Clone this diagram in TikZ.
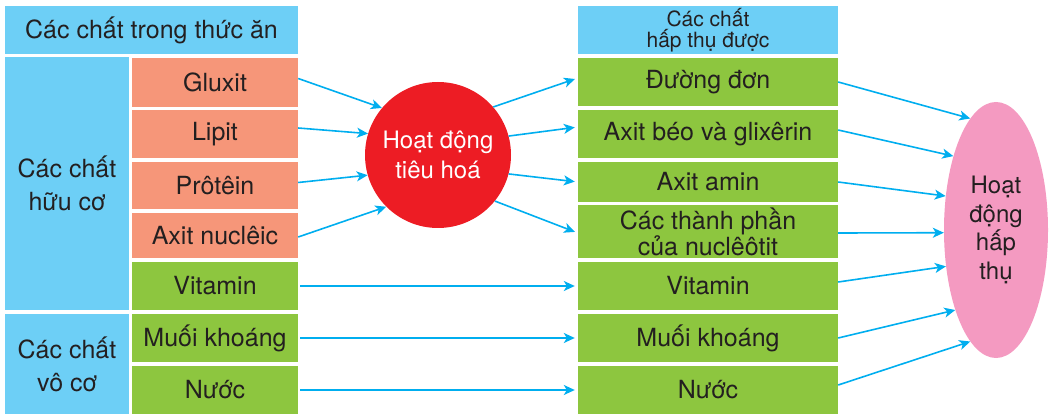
\documentclass[tikz,border=0pt]{standalone}
\usepackage{fontspec}
\setmainfont{TeX Gyre Heros}
\usepackage{xcolor}
\usetikzlibrary{arrows.meta}
\usetikzlibrary{shapes.geometric}
\definecolor{myblue}{RGB}{109,207,246}
\definecolor{mysalmon}{RGB}{246,150,121}
\definecolor{mygreen}{RGB}{141,198,63}
\definecolor{myred}{RGB}{237,28,36}
\definecolor{mypink}{RGB}{244,154,193}
\definecolor{myarrow}{RGB}{0,174,239}
\definecolor{mytext}{RGB}{35,31,32}

\tikzset{
  cell/.style={rectangle, inner sep=0pt, align=center, text=mytext,
    font=\fontsize{25}{33}\selectfont},
  arr/.style={draw=myarrow, line width=1.6pt,
    -{Stealth[length=11pt,width=10pt,inset=3pt]}},
}

\begin{document}
\begin{tikzpicture}[x=1pt,y=-1pt]
  \useasboundingbox (0,0) rectangle (1050,414);
  \def\wa{166}
  \def\wb{260}

%left table:
  \node[cell, fill=myblue, minimum width=293pt, minimum height=48pt] (thucan) at (151.5,30) {Các chất trong thức ăn};
  \node[cell, fill=myblue, minimum width=124pt, minimum height=253pt] (huuco) at (67,183.5) {Các chất\\hữu cơ};
  \node[cell, fill=myblue, minimum width=124pt, minimum height=100pt] (voco) at (67,364) {Các chất\\vô cơ};
  \node[cell, fill=mysalmon, minimum width=\wa pt, minimum height=49pt] (gluxit) at (215,82.5) {Gluxit};
  \node[cell, fill=mysalmon, minimum width=\wa pt, minimum height=48pt] (lipit) at (215,134) {Lipit};
  \node[cell, fill=mysalmon, minimum width=\wa pt, minimum height=47pt] (protein) at (215,185.5) {Prôtêin};
  \node[cell, fill=mysalmon, minimum width=\wa pt, minimum height=45pt] (nucleic) at (215,235.5) {Axit nuclêic};
  \node[cell, fill=mygreen, minimum width=\wa pt, minimum height=48pt] (vitamin) at (215,286) {Vitamin};
  \node[cell, fill=mygreen, minimum width=\wa pt, minimum height=48pt] (khoang) at (215,338) {Muối khoáng};
  \node[cell, fill=mygreen, minimum width=\wa pt, minimum height=48pt] (nuoc) at (215,390) {Nước};

%right table:
  \node[cell, fill=myblue, minimum width=\wb pt, minimum height=48pt, font=\fontsize{21}{20.5}\selectfont] (hapthuduoc) at (708,30) {Các chất\\hấp thụ được};
  \node[cell, fill=mygreen, minimum width=\wb pt, minimum height=48pt] (duongdon) at (708,82) {Đường đơn};
  \node[cell, fill=mygreen, minimum width=\wb pt, minimum height=48pt] (axitbeo) at (708,134) {Axit béo và glixêrin};
  \node[cell, fill=mygreen, minimum width=\wb pt, minimum height=40pt] (axitamin) at (708,182) {Axit amin};
  \node[cell, fill=mygreen, minimum width=\wb pt, minimum height=53pt, font=\fontsize{25}{23.5}\selectfont] (thanhphan) at (708,231.5) {Các thành phần\\của nuclêôtit};
  \node[cell, fill=mygreen, minimum width=\wb pt, minimum height=48pt] (vitaminb) at (708,286) {Vitamin};
  \node[cell, fill=mygreen, minimum width=\wb pt, minimum height=48pt] (khoangb) at (708,338) {Muối khoáng};
  \node[cell, fill=mygreen, minimum width=\wb pt, minimum height=48pt] (nuocb) at (708,390) {Nước};

%processes:
  \node[circle, fill=myred, minimum size=146pt, inner sep=0pt, align=center, text=white,
    font=\fontsize{24}{30}\selectfont] (tieuhoa) at (438,155) {Hoạt động\\tiêu hoá};
  \node[ellipse, fill=mypink, minimum width=104pt, minimum height=256pt, inner sep=0pt, align=center, text=mytext,
    font=\fontsize{24}{28.5}\selectfont] (hapthu) at (996,230) {Hoạt\\động\\hấp\\thụ};

%arrows:
  \draw[arr] ([yshift=4pt]gluxit.east) -- (tieuhoa.140);
  \draw[arr] ([yshift=6pt]lipit.east) -- (tieuhoa.163);
  \draw[arr] ([yshift=3pt]protein.east) -- (tieuhoa.196);
  \draw[arr] ([yshift=-1.5pt]nucleic.east) -- (tieuhoa.225);

  \draw[arr, shorten >=3pt] (tieuhoa.41) -- ([yshift=4pt]duongdon.west);
  \draw[arr, shorten >=3pt] (tieuhoa.15) -- ([yshift=7pt]axitbeo.west);
  \draw[arr, shorten >=3pt] (tieuhoa.-15) -- (axitamin.west);
  \draw[arr, shorten >=3pt] (tieuhoa.-39) -- ([yshift=-1.5pt]thanhphan.west);

  \draw[arr, shorten <=2pt, shorten >=3pt] (vitamin.east) -- (vitaminb.west);
  \draw[arr, shorten <=2pt, shorten >=3pt] (khoang.east) -- (khoangb.west);
  \draw[arr, shorten <=2pt, shorten >=3pt] (nuoc.east) -- (nuocb.west);

  \draw[arr] (duongdon.east) -- (hapthu.103);
  \draw[arr] ([yshift=4pt]axitbeo.east) -- (hapthu.120);
  \draw[arr] (axitamin.east) -- (hapthu.146);
  \draw[arr] ([yshift=-1.5pt]thanhphan.east) -- (hapthu.183);
  \draw[arr] ([yshift=4pt]vitaminb.east) -- (hapthu.216);
  \draw[arr] (khoangb.east) -- (hapthu.243);
  \draw[arr] ([yshift=5pt]nuocb.east) -- (hapthu.257);

\end{tikzpicture}
\end{document}
